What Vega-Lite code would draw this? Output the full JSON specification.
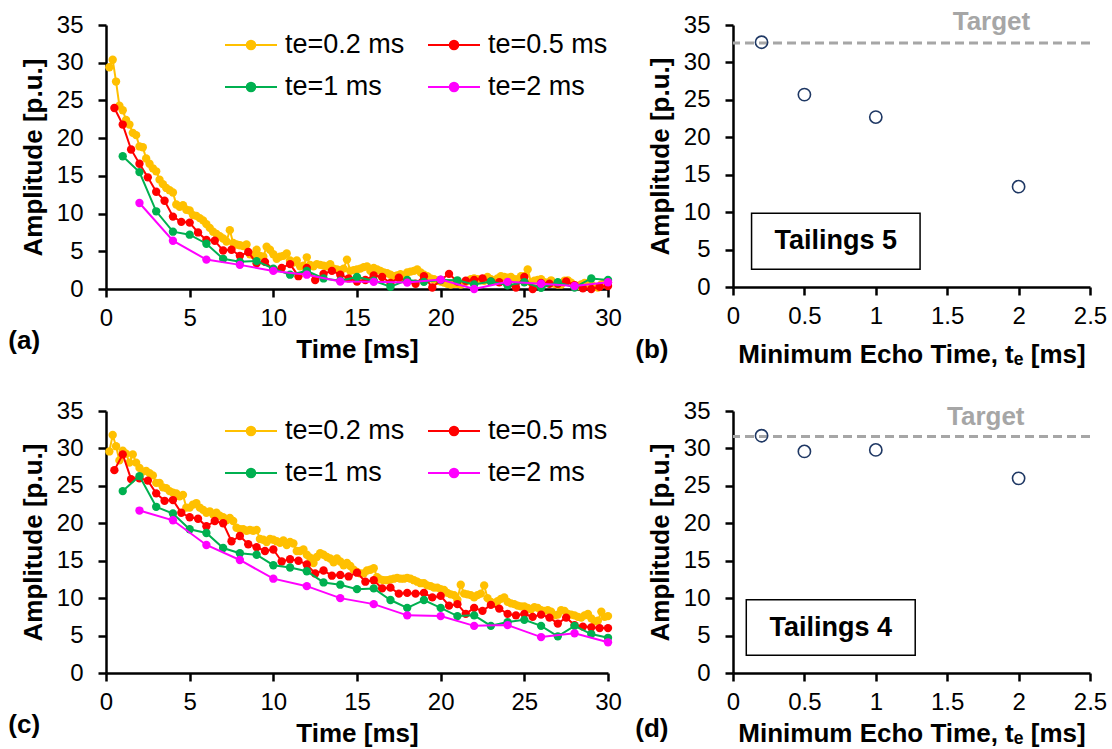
{
"$schema":"https://vega.github.io/schema/vega-lite/v6.json",
"background":"white",
"padding":{"left":8,"top":8,"right":6,"bottom":6},
"config":{
 "view":{"stroke":null},
 "font":"Liberation Sans",
 "axis":{"domainColor":"black","domainWidth":2.5,"tickColor":"black","tickWidth":2.5,"tickSize":8,"labelFontSize":24,"labelColor":"black","labelFont":"Liberation Sans","titleFontSize":26,"titleFont":"Liberation Sans","titleFontWeight":"bold","titleColor":"black","grid":false,"labelFlush":false,"labelOverlap":false},
 "axisY":{"labelPadding":15,"titlePadding":10},
 "axisX":{"labelPadding":9,"titlePadding":6},
 "title":{"font":"Liberation Sans","fontSize":26,"fontWeight":"bold","color":"black"},
 "legend":{"orient":"none","legendX":131,"legendY":6,"columns":2,"title":null,"symbolType":"M-2,0L2,0M0.08,0A0.08,0.08,0,1,1,-0.08,0A0.08,0.08,0,1,1,0.08,0M0.18,0A0.18,0.18,0,1,1,-0.18,0A0.18,0.18,0,1,1,0.18,0M0.28,0A0.28,0.28,0,1,1,-0.28,0A0.28,0.28,0,1,1,0.28,0M0.33,0A0.33,0.33,0,1,1,-0.33,0A0.33,0.33,0,1,1,0.33,0","symbolSize":676,"symbolStrokeWidth":2,"labelFontSize":27,"labelFont":"Liberation Sans","labelColor":"black","labelOffset":20,"columnPadding":19,"rowPadding":15,"labelLimit":300}
},
"datasets":{
 "A":[
{"t":0.2,"a":29.4,"s":"te=0.2 ms"},{"t":0.4,"a":30.4,"s":"te=0.2 ms"},{"t":0.6,"a":27.5,"s":"te=0.2 ms"},{"t":0.8,"a":24.3,"s":"te=0.2 ms"},{"t":1.0,"a":23.7,"s":"te=0.2 ms"},{"t":1.2,"a":22.4,"s":"te=0.2 ms"},{"t":1.4,"a":21.8,"s":"te=0.2 ms"},{"t":1.6,"a":20.7,"s":"te=0.2 ms"},{"t":1.8,"a":20.4,"s":"te=0.2 ms"},{"t":2.0,"a":18.9,"s":"te=0.2 ms"},
{"t":2.2,"a":18.8,"s":"te=0.2 ms"},{"t":2.4,"a":17.3,"s":"te=0.2 ms"},{"t":2.6,"a":16.6,"s":"te=0.2 ms"},{"t":2.8,"a":16.0,"s":"te=0.2 ms"},{"t":3.0,"a":15.6,"s":"te=0.2 ms"},{"t":3.2,"a":14.5,"s":"te=0.2 ms"},{"t":3.4,"a":13.9,"s":"te=0.2 ms"},{"t":3.6,"a":13.4,"s":"te=0.2 ms"},{"t":3.8,"a":13.1,"s":"te=0.2 ms"},{"t":4.0,"a":12.8,"s":"te=0.2 ms"},
{"t":4.2,"a":11.2,"s":"te=0.2 ms"},{"t":4.4,"a":10.9,"s":"te=0.2 ms"},{"t":4.6,"a":11.1,"s":"te=0.2 ms"},{"t":4.8,"a":10.5,"s":"te=0.2 ms"},{"t":5.0,"a":10.4,"s":"te=0.2 ms"},{"t":5.2,"a":9.8,"s":"te=0.2 ms"},{"t":5.4,"a":9.7,"s":"te=0.2 ms"},{"t":5.6,"a":9.4,"s":"te=0.2 ms"},{"t":5.8,"a":9.1,"s":"te=0.2 ms"},{"t":6.0,"a":8.6,"s":"te=0.2 ms"},
{"t":6.2,"a":8.1,"s":"te=0.2 ms"},{"t":6.4,"a":7.6,"s":"te=0.2 ms"},{"t":6.6,"a":7.3,"s":"te=0.2 ms"},{"t":6.8,"a":7.0,"s":"te=0.2 ms"},{"t":7.0,"a":6.7,"s":"te=0.2 ms"},{"t":7.2,"a":6.3,"s":"te=0.2 ms"},{"t":7.4,"a":7.8,"s":"te=0.2 ms"},{"t":7.6,"a":6.1,"s":"te=0.2 ms"},{"t":7.8,"a":5.9,"s":"te=0.2 ms"},{"t":8.0,"a":5.8,"s":"te=0.2 ms"},
{"t":8.2,"a":5.7,"s":"te=0.2 ms"},{"t":8.4,"a":5.9,"s":"te=0.2 ms"},{"t":8.6,"a":4.6,"s":"te=0.2 ms"},{"t":8.8,"a":4.5,"s":"te=0.2 ms"},{"t":9.0,"a":5.2,"s":"te=0.2 ms"},{"t":9.2,"a":4.4,"s":"te=0.2 ms"},{"t":9.4,"a":4.3,"s":"te=0.2 ms"},{"t":9.6,"a":5.6,"s":"te=0.2 ms"},{"t":9.8,"a":5.2,"s":"te=0.2 ms"},{"t":10.0,"a":4.6,"s":"te=0.2 ms"},
{"t":10.2,"a":4.0,"s":"te=0.2 ms"},{"t":10.4,"a":4.3,"s":"te=0.2 ms"},{"t":10.6,"a":4.4,"s":"te=0.2 ms"},{"t":10.8,"a":4.7,"s":"te=0.2 ms"},{"t":11.0,"a":3.8,"s":"te=0.2 ms"},{"t":11.2,"a":3.5,"s":"te=0.2 ms"},{"t":11.4,"a":3.8,"s":"te=0.2 ms"},{"t":11.6,"a":3.0,"s":"te=0.2 ms"},{"t":11.8,"a":3.1,"s":"te=0.2 ms"},{"t":12.0,"a":4.2,"s":"te=0.2 ms"},
{"t":12.2,"a":3.2,"s":"te=0.2 ms"},{"t":12.4,"a":3.0,"s":"te=0.2 ms"},{"t":12.6,"a":3.3,"s":"te=0.2 ms"},{"t":12.8,"a":3.2,"s":"te=0.2 ms"},{"t":13.0,"a":3.1,"s":"te=0.2 ms"},{"t":13.2,"a":3.0,"s":"te=0.2 ms"},{"t":13.4,"a":3.3,"s":"te=0.2 ms"},{"t":13.6,"a":2.7,"s":"te=0.2 ms"},{"t":13.8,"a":2.6,"s":"te=0.2 ms"},{"t":14.0,"a":2.5,"s":"te=0.2 ms"},
{"t":14.2,"a":2.7,"s":"te=0.2 ms"},{"t":14.4,"a":3.9,"s":"te=0.2 ms"},{"t":14.6,"a":2.4,"s":"te=0.2 ms"},{"t":14.8,"a":2.5,"s":"te=0.2 ms"},{"t":15.0,"a":2.6,"s":"te=0.2 ms"},{"t":15.2,"a":2.7,"s":"te=0.2 ms"},{"t":15.4,"a":2.9,"s":"te=0.2 ms"},{"t":15.6,"a":3.0,"s":"te=0.2 ms"},{"t":15.8,"a":2.4,"s":"te=0.2 ms"},{"t":16.0,"a":2.8,"s":"te=0.2 ms"},
{"t":16.2,"a":2.6,"s":"te=0.2 ms"},{"t":16.4,"a":2.4,"s":"te=0.2 ms"},{"t":16.6,"a":2.2,"s":"te=0.2 ms"},{"t":16.8,"a":2.1,"s":"te=0.2 ms"},{"t":17.0,"a":1.9,"s":"te=0.2 ms"},{"t":17.2,"a":1.7,"s":"te=0.2 ms"},{"t":17.4,"a":1.8,"s":"te=0.2 ms"},{"t":17.6,"a":1.95,"s":"te=0.2 ms"},{"t":17.8,"a":1.6,"s":"te=0.2 ms"},{"t":18.0,"a":2.2,"s":"te=0.2 ms"},
{"t":18.2,"a":2.3,"s":"te=0.2 ms"},{"t":18.4,"a":2.4,"s":"te=0.2 ms"},{"t":18.6,"a":2.6,"s":"te=0.2 ms"},{"t":18.8,"a":2.2,"s":"te=0.2 ms"},{"t":19.0,"a":1.9,"s":"te=0.2 ms"},{"t":19.2,"a":1.7,"s":"te=0.2 ms"},{"t":19.4,"a":1.4,"s":"te=0.2 ms"},{"t":19.6,"a":1.3,"s":"te=0.2 ms"},{"t":19.8,"a":1.1,"s":"te=0.2 ms"},{"t":20.0,"a":1.0,"s":"te=0.2 ms"},
{"t":20.2,"a":0.85,"s":"te=0.2 ms"},{"t":20.4,"a":0.7,"s":"te=0.2 ms"},{"t":20.6,"a":0.6,"s":"te=0.2 ms"},{"t":20.8,"a":0.7,"s":"te=0.2 ms"},{"t":21.0,"a":0.7,"s":"te=0.2 ms"},{"t":21.2,"a":0.6,"s":"te=0.2 ms"},{"t":21.4,"a":0.8,"s":"te=0.2 ms"},{"t":21.6,"a":1.05,"s":"te=0.2 ms"},{"t":21.8,"a":1.3,"s":"te=0.2 ms"},{"t":22.0,"a":1.4,"s":"te=0.2 ms"},
{"t":22.2,"a":1.3,"s":"te=0.2 ms"},{"t":22.4,"a":1.15,"s":"te=0.2 ms"},{"t":22.6,"a":1.1,"s":"te=0.2 ms"},{"t":22.8,"a":1.6,"s":"te=0.2 ms"},{"t":23.0,"a":1.3,"s":"te=0.2 ms"},{"t":23.2,"a":1.15,"s":"te=0.2 ms"},{"t":23.4,"a":1.4,"s":"te=0.2 ms"},{"t":23.6,"a":1.7,"s":"te=0.2 ms"},{"t":23.8,"a":1.6,"s":"te=0.2 ms"},{"t":24.0,"a":1.5,"s":"te=0.2 ms"},
{"t":24.2,"a":1.6,"s":"te=0.2 ms"},{"t":24.4,"a":1.3,"s":"te=0.2 ms"},{"t":24.6,"a":1.3,"s":"te=0.2 ms"},{"t":24.8,"a":1.7,"s":"te=0.2 ms"},{"t":25.0,"a":1.7,"s":"te=0.2 ms"},{"t":25.2,"a":2.6,"s":"te=0.2 ms"},{"t":25.4,"a":0.85,"s":"te=0.2 ms"},{"t":25.6,"a":1.1,"s":"te=0.2 ms"},{"t":25.8,"a":1.2,"s":"te=0.2 ms"},{"t":26.0,"a":1.3,"s":"te=0.2 ms"},
{"t":26.2,"a":0.9,"s":"te=0.2 ms"},{"t":26.4,"a":0.85,"s":"te=0.2 ms"},{"t":26.6,"a":1.15,"s":"te=0.2 ms"},{"t":26.8,"a":0.7,"s":"te=0.2 ms"},{"t":27.0,"a":0.6,"s":"te=0.2 ms"},{"t":27.2,"a":0.6,"s":"te=0.2 ms"},{"t":27.4,"a":1.1,"s":"te=0.2 ms"},{"t":27.6,"a":1.15,"s":"te=0.2 ms"},{"t":27.8,"a":0.85,"s":"te=0.2 ms"},{"t":28.0,"a":0.5,"s":"te=0.2 ms"},
{"t":28.2,"a":0.4,"s":"te=0.2 ms"},{"t":28.4,"a":0.6,"s":"te=0.2 ms"},{"t":28.6,"a":0.8,"s":"te=0.2 ms"},{"t":28.8,"a":0.8,"s":"te=0.2 ms"},{"t":29.0,"a":0.6,"s":"te=0.2 ms"},{"t":29.2,"a":0.3,"s":"te=0.2 ms"},{"t":29.4,"a":0.2,"s":"te=0.2 ms"},{"t":29.6,"a":0.6,"s":"te=0.2 ms"},{"t":29.8,"a":0.8,"s":"te=0.2 ms"},{"t":30.0,"a":0.85,"s":"te=0.2 ms"},
{"t":0.5,"a":24.0,"s":"te=0.5 ms"},{"t":1.0,"a":21.8,"s":"te=0.5 ms"},{"t":1.5,"a":18.5,"s":"te=0.5 ms"},{"t":2.0,"a":16.6,"s":"te=0.5 ms"},{"t":2.5,"a":14.8,"s":"te=0.5 ms"},{"t":3.0,"a":12.9,"s":"te=0.5 ms"},{"t":3.5,"a":11.7,"s":"te=0.5 ms"},{"t":4.0,"a":9.6,"s":"te=0.5 ms"},{"t":4.5,"a":8.9,"s":"te=0.5 ms"},{"t":5.0,"a":8.8,"s":"te=0.5 ms"},
{"t":5.5,"a":7.5,"s":"te=0.5 ms"},{"t":6.0,"a":6.5,"s":"te=0.5 ms"},{"t":6.5,"a":6.4,"s":"te=0.5 ms"},{"t":7.0,"a":5.1,"s":"te=0.5 ms"},{"t":7.5,"a":5.2,"s":"te=0.5 ms"},{"t":8.0,"a":4.4,"s":"te=0.5 ms"},{"t":8.5,"a":4.9,"s":"te=0.5 ms"},{"t":9.0,"a":3.4,"s":"te=0.5 ms"},{"t":9.5,"a":3.6,"s":"te=0.5 ms"},{"t":10.0,"a":2.6,"s":"te=0.5 ms"},
{"t":10.5,"a":2.8,"s":"te=0.5 ms"},{"t":11.0,"a":3.3,"s":"te=0.5 ms"},{"t":11.5,"a":1.7,"s":"te=0.5 ms"},{"t":12.0,"a":2.8,"s":"te=0.5 ms"},{"t":12.5,"a":1.2,"s":"te=0.5 ms"},{"t":13.0,"a":2.0,"s":"te=0.5 ms"},{"t":13.5,"a":2.4,"s":"te=0.5 ms"},{"t":14.0,"a":1.9,"s":"te=0.5 ms"},{"t":14.5,"a":1.4,"s":"te=0.5 ms"},{"t":15.0,"a":1.0,"s":"te=0.5 ms"},
{"t":15.5,"a":1.2,"s":"te=0.5 ms"},{"t":16.0,"a":1.8,"s":"te=0.5 ms"},{"t":16.5,"a":1.6,"s":"te=0.5 ms"},{"t":17.0,"a":0.8,"s":"te=0.5 ms"},{"t":17.5,"a":1.5,"s":"te=0.5 ms"},{"t":18.0,"a":1.0,"s":"te=0.5 ms"},{"t":18.5,"a":0.7,"s":"te=0.5 ms"},{"t":19.0,"a":1.7,"s":"te=0.5 ms"},{"t":19.5,"a":0.2,"s":"te=0.5 ms"},{"t":20.0,"a":1.2,"s":"te=0.5 ms"},
{"t":20.5,"a":2.0,"s":"te=0.5 ms"},{"t":21.0,"a":1.0,"s":"te=0.5 ms"},{"t":21.5,"a":1.1,"s":"te=0.5 ms"},{"t":22.0,"a":1.2,"s":"te=0.5 ms"},{"t":22.5,"a":1.4,"s":"te=0.5 ms"},{"t":23.0,"a":1.0,"s":"te=0.5 ms"},{"t":23.5,"a":0.9,"s":"te=0.5 ms"},{"t":24.0,"a":0.6,"s":"te=0.5 ms"},{"t":24.5,"a":0.2,"s":"te=0.5 ms"},{"t":25.0,"a":1.6,"s":"te=0.5 ms"},
{"t":25.5,"a":0.0,"s":"te=0.5 ms"},{"t":26.0,"a":0.8,"s":"te=0.5 ms"},{"t":26.5,"a":0.7,"s":"te=0.5 ms"},{"t":27.0,"a":0.7,"s":"te=0.5 ms"},{"t":27.5,"a":1.0,"s":"te=0.5 ms"},{"t":28.0,"a":0.5,"s":"te=0.5 ms"},{"t":28.5,"a":0.1,"s":"te=0.5 ms"},{"t":29.0,"a":0.0,"s":"te=0.5 ms"},{"t":29.5,"a":0.3,"s":"te=0.5 ms"},{"t":30.0,"a":0.4,"s":"te=0.5 ms"},
{"t":1,"a":17.6,"s":"te=1 ms"},{"t":2,"a":15.5,"s":"te=1 ms"},{"t":3,"a":10.3,"s":"te=1 ms"},{"t":4,"a":7.6,"s":"te=1 ms"},{"t":5,"a":7.2,"s":"te=1 ms"},{"t":6,"a":6.0,"s":"te=1 ms"},{"t":7,"a":4.0,"s":"te=1 ms"},{"t":8,"a":3.6,"s":"te=1 ms"},{"t":9,"a":3.7,"s":"te=1 ms"},{"t":10,"a":2.7,"s":"te=1 ms"},
{"t":11,"a":1.9,"s":"te=1 ms"},{"t":12,"a":2.4,"s":"te=1 ms"},{"t":13,"a":1.4,"s":"te=1 ms"},{"t":14,"a":1.1,"s":"te=1 ms"},{"t":15,"a":1.6,"s":"te=1 ms"},{"t":16,"a":1.1,"s":"te=1 ms"},{"t":17,"a":0.3,"s":"te=1 ms"},{"t":18,"a":1.2,"s":"te=1 ms"},{"t":19,"a":0.95,"s":"te=1 ms"},{"t":20,"a":1.2,"s":"te=1 ms"},
{"t":21,"a":1.15,"s":"te=1 ms"},{"t":22,"a":0.6,"s":"te=1 ms"},{"t":23,"a":1.0,"s":"te=1 ms"},{"t":24,"a":0.5,"s":"te=1 ms"},{"t":25,"a":0.9,"s":"te=1 ms"},{"t":26,"a":0.15,"s":"te=1 ms"},{"t":27,"a":0.9,"s":"te=1 ms"},{"t":28,"a":0.2,"s":"te=1 ms"},{"t":29,"a":1.4,"s":"te=1 ms"},{"t":30,"a":1.2,"s":"te=1 ms"},
{"t":2,"a":11.4,"s":"te=2 ms"},{"t":4,"a":6.4,"s":"te=2 ms"},{"t":6,"a":3.9,"s":"te=2 ms"},{"t":8,"a":3.2,"s":"te=2 ms"},{"t":10,"a":2.4,"s":"te=2 ms"},{"t":12,"a":1.9,"s":"te=2 ms"},{"t":14,"a":1.0,"s":"te=2 ms"},{"t":16,"a":0.95,"s":"te=2 ms"},{"t":18,"a":0.85,"s":"te=2 ms"},{"t":20,"a":1.25,"s":"te=2 ms"},
{"t":22,"a":0.0,"s":"te=2 ms"},{"t":24,"a":0.95,"s":"te=2 ms"},{"t":26,"a":0.7,"s":"te=2 ms"},{"t":28,"a":0.4,"s":"te=2 ms"},{"t":30,"a":0.9,"s":"te=2 ms"}
 ],
 "C":[
{"t":0.2,"a":29.6,"s":"te=0.2 ms"},{"t":0.4,"a":31.8,"s":"te=0.2 ms"},{"t":0.6,"a":30.3,"s":"te=0.2 ms"},{"t":0.8,"a":28.4,"s":"te=0.2 ms"},{"t":1.0,"a":29.7,"s":"te=0.2 ms"},{"t":1.2,"a":29.3,"s":"te=0.2 ms"},{"t":1.4,"a":28.1,"s":"te=0.2 ms"},{"t":1.6,"a":29.2,"s":"te=0.2 ms"},{"t":1.8,"a":28.1,"s":"te=0.2 ms"},{"t":2.0,"a":27.4,"s":"te=0.2 ms"},
{"t":2.2,"a":26.9,"s":"te=0.2 ms"},{"t":2.4,"a":27.0,"s":"te=0.2 ms"},{"t":2.6,"a":26.7,"s":"te=0.2 ms"},{"t":2.8,"a":26.4,"s":"te=0.2 ms"},{"t":3.0,"a":25.4,"s":"te=0.2 ms"},{"t":3.2,"a":25.4,"s":"te=0.2 ms"},{"t":3.4,"a":24.8,"s":"te=0.2 ms"},{"t":3.6,"a":24.7,"s":"te=0.2 ms"},{"t":3.8,"a":24.3,"s":"te=0.2 ms"},{"t":4.0,"a":24.1,"s":"te=0.2 ms"},
{"t":4.2,"a":24.0,"s":"te=0.2 ms"},{"t":4.4,"a":23.6,"s":"te=0.2 ms"},{"t":4.6,"a":23.8,"s":"te=0.2 ms"},{"t":4.8,"a":22.1,"s":"te=0.2 ms"},{"t":5.0,"a":22.1,"s":"te=0.2 ms"},{"t":5.2,"a":22.5,"s":"te=0.2 ms"},{"t":5.4,"a":22.7,"s":"te=0.2 ms"},{"t":5.6,"a":22.1,"s":"te=0.2 ms"},{"t":5.8,"a":21.8,"s":"te=0.2 ms"},{"t":6.0,"a":21.4,"s":"te=0.2 ms"},
{"t":6.2,"a":21.6,"s":"te=0.2 ms"},{"t":6.4,"a":21.2,"s":"te=0.2 ms"},{"t":6.6,"a":21.4,"s":"te=0.2 ms"},{"t":6.8,"a":21.0,"s":"te=0.2 ms"},{"t":7.0,"a":20.8,"s":"te=0.2 ms"},{"t":7.2,"a":20.4,"s":"te=0.2 ms"},{"t":7.4,"a":20.7,"s":"te=0.2 ms"},{"t":7.6,"a":20.3,"s":"te=0.2 ms"},{"t":7.8,"a":19.4,"s":"te=0.2 ms"},{"t":8.0,"a":19.2,"s":"te=0.2 ms"},
{"t":8.2,"a":19.2,"s":"te=0.2 ms"},{"t":8.4,"a":19.0,"s":"te=0.2 ms"},{"t":8.6,"a":19.1,"s":"te=0.2 ms"},{"t":8.8,"a":19.0,"s":"te=0.2 ms"},{"t":9.0,"a":19.1,"s":"te=0.2 ms"},{"t":9.2,"a":17.9,"s":"te=0.2 ms"},{"t":9.4,"a":17.8,"s":"te=0.2 ms"},{"t":9.6,"a":17.5,"s":"te=0.2 ms"},{"t":9.8,"a":17.9,"s":"te=0.2 ms"},{"t":10.0,"a":17.8,"s":"te=0.2 ms"},
{"t":10.2,"a":17.6,"s":"te=0.2 ms"},{"t":10.4,"a":17.4,"s":"te=0.2 ms"},{"t":10.6,"a":17.7,"s":"te=0.2 ms"},{"t":10.8,"a":17.1,"s":"te=0.2 ms"},{"t":11.0,"a":17.5,"s":"te=0.2 ms"},{"t":11.2,"a":17.3,"s":"te=0.2 ms"},{"t":11.4,"a":16.3,"s":"te=0.2 ms"},{"t":11.6,"a":16.3,"s":"te=0.2 ms"},{"t":11.8,"a":16.5,"s":"te=0.2 ms"},{"t":12.0,"a":15.8,"s":"te=0.2 ms"},
{"t":12.2,"a":15.4,"s":"te=0.2 ms"},{"t":12.4,"a":14.7,"s":"te=0.2 ms"},{"t":12.6,"a":15.5,"s":"te=0.2 ms"},{"t":12.8,"a":16.0,"s":"te=0.2 ms"},{"t":13.0,"a":15.8,"s":"te=0.2 ms"},{"t":13.2,"a":15.5,"s":"te=0.2 ms"},{"t":13.4,"a":15.3,"s":"te=0.2 ms"},{"t":13.6,"a":14.8,"s":"te=0.2 ms"},{"t":13.8,"a":15.3,"s":"te=0.2 ms"},{"t":14.0,"a":14.9,"s":"te=0.2 ms"},
{"t":14.2,"a":14.4,"s":"te=0.2 ms"},{"t":14.4,"a":14.7,"s":"te=0.2 ms"},{"t":14.6,"a":14.3,"s":"te=0.2 ms"},{"t":14.8,"a":13.8,"s":"te=0.2 ms"},{"t":15.0,"a":13.5,"s":"te=0.2 ms"},{"t":15.2,"a":13.3,"s":"te=0.2 ms"},{"t":15.4,"a":13.3,"s":"te=0.2 ms"},{"t":15.6,"a":13.7,"s":"te=0.2 ms"},{"t":15.8,"a":13.8,"s":"te=0.2 ms"},{"t":16.0,"a":14.0,"s":"te=0.2 ms"},
{"t":16.2,"a":12.8,"s":"te=0.2 ms"},{"t":16.4,"a":12.5,"s":"te=0.2 ms"},{"t":16.6,"a":12.4,"s":"te=0.2 ms"},{"t":16.8,"a":12.4,"s":"te=0.2 ms"},{"t":17.0,"a":12.5,"s":"te=0.2 ms"},{"t":17.2,"a":12.6,"s":"te=0.2 ms"},{"t":17.4,"a":12.7,"s":"te=0.2 ms"},{"t":17.6,"a":12.6,"s":"te=0.2 ms"},{"t":17.8,"a":12.6,"s":"te=0.2 ms"},{"t":18.0,"a":12.7,"s":"te=0.2 ms"},
{"t":18.2,"a":12.6,"s":"te=0.2 ms"},{"t":18.4,"a":12.4,"s":"te=0.2 ms"},{"t":18.6,"a":12.2,"s":"te=0.2 ms"},{"t":18.8,"a":12.0,"s":"te=0.2 ms"},{"t":19.0,"a":12.0,"s":"te=0.2 ms"},{"t":19.2,"a":11.7,"s":"te=0.2 ms"},{"t":19.4,"a":11.6,"s":"te=0.2 ms"},{"t":19.6,"a":11.4,"s":"te=0.2 ms"},{"t":19.8,"a":11.4,"s":"te=0.2 ms"},{"t":20.0,"a":11.2,"s":"te=0.2 ms"},
{"t":20.2,"a":11.1,"s":"te=0.2 ms"},{"t":20.4,"a":10.7,"s":"te=0.2 ms"},{"t":20.6,"a":10.5,"s":"te=0.2 ms"},{"t":20.8,"a":10.4,"s":"te=0.2 ms"},{"t":21.0,"a":9.8,"s":"te=0.2 ms"},{"t":21.2,"a":11.8,"s":"te=0.2 ms"},{"t":21.4,"a":10.6,"s":"te=0.2 ms"},{"t":21.6,"a":10.5,"s":"te=0.2 ms"},{"t":21.8,"a":10.4,"s":"te=0.2 ms"},{"t":22.0,"a":10.1,"s":"te=0.2 ms"},
{"t":22.2,"a":10.4,"s":"te=0.2 ms"},{"t":22.4,"a":10.6,"s":"te=0.2 ms"},{"t":22.6,"a":11.7,"s":"te=0.2 ms"},{"t":22.8,"a":10.0,"s":"te=0.2 ms"},{"t":23.0,"a":9.5,"s":"te=0.2 ms"},{"t":23.2,"a":9.3,"s":"te=0.2 ms"},{"t":23.4,"a":9.6,"s":"te=0.2 ms"},{"t":23.6,"a":9.9,"s":"te=0.2 ms"},{"t":23.8,"a":10.1,"s":"te=0.2 ms"},{"t":24.0,"a":9.5,"s":"te=0.2 ms"},
{"t":24.2,"a":9.3,"s":"te=0.2 ms"},{"t":24.4,"a":9.2,"s":"te=0.2 ms"},{"t":24.6,"a":9.0,"s":"te=0.2 ms"},{"t":24.8,"a":8.9,"s":"te=0.2 ms"},{"t":25.0,"a":8.9,"s":"te=0.2 ms"},{"t":25.2,"a":8.7,"s":"te=0.2 ms"},{"t":25.4,"a":8.5,"s":"te=0.2 ms"},{"t":25.6,"a":8.8,"s":"te=0.2 ms"},{"t":25.8,"a":8.7,"s":"te=0.2 ms"},{"t":26.0,"a":8.4,"s":"te=0.2 ms"},
{"t":26.2,"a":8.3,"s":"te=0.2 ms"},{"t":26.4,"a":8.4,"s":"te=0.2 ms"},{"t":26.6,"a":8.2,"s":"te=0.2 ms"},{"t":26.8,"a":7.7,"s":"te=0.2 ms"},{"t":27.0,"a":7.8,"s":"te=0.2 ms"},{"t":27.2,"a":8.4,"s":"te=0.2 ms"},{"t":27.4,"a":8.3,"s":"te=0.2 ms"},{"t":27.6,"a":7.9,"s":"te=0.2 ms"},{"t":27.8,"a":7.8,"s":"te=0.2 ms"},{"t":28.0,"a":7.7,"s":"te=0.2 ms"},
{"t":28.2,"a":7.5,"s":"te=0.2 ms"},{"t":28.4,"a":7.4,"s":"te=0.2 ms"},{"t":28.6,"a":7.7,"s":"te=0.2 ms"},{"t":28.8,"a":7.9,"s":"te=0.2 ms"},{"t":29.0,"a":7.3,"s":"te=0.2 ms"},{"t":29.2,"a":6.9,"s":"te=0.2 ms"},{"t":29.4,"a":7.0,"s":"te=0.2 ms"},{"t":29.6,"a":8.2,"s":"te=0.2 ms"},{"t":29.8,"a":7.5,"s":"te=0.2 ms"},{"t":30.0,"a":7.6,"s":"te=0.2 ms"},
{"t":0.5,"a":27.1,"s":"te=0.5 ms"},{"t":1.0,"a":29.2,"s":"te=0.5 ms"},{"t":1.5,"a":25.9,"s":"te=0.5 ms"},{"t":2.0,"a":26.0,"s":"te=0.5 ms"},{"t":2.5,"a":25.7,"s":"te=0.5 ms"},{"t":3.0,"a":24.0,"s":"te=0.5 ms"},{"t":3.5,"a":23.0,"s":"te=0.5 ms"},{"t":4.0,"a":23.1,"s":"te=0.5 ms"},{"t":4.5,"a":21.4,"s":"te=0.5 ms"},{"t":5.0,"a":20.8,"s":"te=0.5 ms"},
{"t":5.5,"a":20.6,"s":"te=0.5 ms"},{"t":6.0,"a":19.6,"s":"te=0.5 ms"},{"t":6.5,"a":20.3,"s":"te=0.5 ms"},{"t":7.0,"a":20.0,"s":"te=0.5 ms"},{"t":7.5,"a":17.6,"s":"te=0.5 ms"},{"t":8.0,"a":18.3,"s":"te=0.5 ms"},{"t":8.5,"a":17.2,"s":"te=0.5 ms"},{"t":9.0,"a":16.8,"s":"te=0.5 ms"},{"t":9.5,"a":16.3,"s":"te=0.5 ms"},{"t":10.0,"a":16.5,"s":"te=0.5 ms"},
{"t":10.5,"a":14.9,"s":"te=0.5 ms"},{"t":11.0,"a":15.2,"s":"te=0.5 ms"},{"t":11.5,"a":15.0,"s":"te=0.5 ms"},{"t":12.0,"a":14.5,"s":"te=0.5 ms"},{"t":12.5,"a":13.3,"s":"te=0.5 ms"},{"t":13.0,"a":13.7,"s":"te=0.5 ms"},{"t":13.5,"a":13.0,"s":"te=0.5 ms"},{"t":14.0,"a":13.1,"s":"te=0.5 ms"},{"t":14.5,"a":12.9,"s":"te=0.5 ms"},{"t":15.0,"a":13.4,"s":"te=0.5 ms"},
{"t":15.5,"a":12.2,"s":"te=0.5 ms"},{"t":16.0,"a":12.4,"s":"te=0.5 ms"},{"t":16.5,"a":11.3,"s":"te=0.5 ms"},{"t":17.0,"a":11.4,"s":"te=0.5 ms"},{"t":17.5,"a":10.6,"s":"te=0.5 ms"},{"t":18.0,"a":10.7,"s":"te=0.5 ms"},{"t":18.5,"a":10.6,"s":"te=0.5 ms"},{"t":19.0,"a":10.7,"s":"te=0.5 ms"},{"t":19.5,"a":10.1,"s":"te=0.5 ms"},{"t":20.0,"a":10.3,"s":"te=0.5 ms"},
{"t":20.5,"a":9.0,"s":"te=0.5 ms"},{"t":21.0,"a":9.2,"s":"te=0.5 ms"},{"t":21.5,"a":7.9,"s":"te=0.5 ms"},{"t":22.0,"a":8.7,"s":"te=0.5 ms"},{"t":22.5,"a":8.3,"s":"te=0.5 ms"},{"t":23.0,"a":9.1,"s":"te=0.5 ms"},{"t":23.5,"a":8.6,"s":"te=0.5 ms"},{"t":24.0,"a":7.9,"s":"te=0.5 ms"},{"t":24.5,"a":7.7,"s":"te=0.5 ms"},{"t":25.0,"a":7.9,"s":"te=0.5 ms"},
{"t":25.5,"a":7.5,"s":"te=0.5 ms"},{"t":26.0,"a":7.8,"s":"te=0.5 ms"},{"t":26.5,"a":7.4,"s":"te=0.5 ms"},{"t":27.0,"a":6.6,"s":"te=0.5 ms"},{"t":27.5,"a":7.4,"s":"te=0.5 ms"},{"t":28.0,"a":6.4,"s":"te=0.5 ms"},{"t":28.5,"a":6.2,"s":"te=0.5 ms"},{"t":29.0,"a":6.1,"s":"te=0.5 ms"},{"t":29.5,"a":6.0,"s":"te=0.5 ms"},{"t":30.0,"a":6.0,"s":"te=0.5 ms"},
{"t":1,"a":24.3,"s":"te=1 ms"},{"t":2,"a":26.3,"s":"te=1 ms"},{"t":3,"a":22.2,"s":"te=1 ms"},{"t":4,"a":21.3,"s":"te=1 ms"},{"t":5,"a":19.2,"s":"te=1 ms"},{"t":6,"a":18.7,"s":"te=1 ms"},{"t":7,"a":16.7,"s":"te=1 ms"},{"t":8,"a":16.0,"s":"te=1 ms"},{"t":9,"a":15.8,"s":"te=1 ms"},{"t":10,"a":14.4,"s":"te=1 ms"},
{"t":11,"a":14.1,"s":"te=1 ms"},{"t":12,"a":13.6,"s":"te=1 ms"},{"t":13,"a":12.1,"s":"te=1 ms"},{"t":14,"a":11.8,"s":"te=1 ms"},{"t":15,"a":11.2,"s":"te=1 ms"},{"t":16,"a":11.3,"s":"te=1 ms"},{"t":17,"a":9.75,"s":"te=1 ms"},{"t":18,"a":8.7,"s":"te=1 ms"},{"t":19,"a":9.75,"s":"te=1 ms"},{"t":20,"a":8.7,"s":"te=1 ms"},
{"t":21,"a":7.6,"s":"te=1 ms"},{"t":22,"a":7.7,"s":"te=1 ms"},{"t":23,"a":6.3,"s":"te=1 ms"},{"t":24,"a":6.8,"s":"te=1 ms"},{"t":25,"a":7.1,"s":"te=1 ms"},{"t":26,"a":6.3,"s":"te=1 ms"},{"t":27,"a":4.9,"s":"te=1 ms"},{"t":28,"a":6.3,"s":"te=1 ms"},{"t":29,"a":5.2,"s":"te=1 ms"},{"t":30,"a":4.7,"s":"te=1 ms"},
{"t":2,"a":21.7,"s":"te=2 ms"},{"t":4,"a":20.4,"s":"te=2 ms"},{"t":6,"a":17.1,"s":"te=2 ms"},{"t":8,"a":15.1,"s":"te=2 ms"},{"t":10,"a":12.6,"s":"te=2 ms"},{"t":12,"a":11.6,"s":"te=2 ms"},{"t":14,"a":10.0,"s":"te=2 ms"},{"t":16,"a":9.2,"s":"te=2 ms"},{"t":18,"a":7.7,"s":"te=2 ms"},{"t":20,"a":7.6,"s":"te=2 ms"},
{"t":22,"a":6.3,"s":"te=2 ms"},{"t":24,"a":6.4,"s":"te=2 ms"},{"t":26,"a":4.8,"s":"te=2 ms"},{"t":28,"a":5.3,"s":"te=2 ms"},{"t":30,"a":4.1,"s":"te=2 ms"}
 ],
 "B":[{"te":0.2,"a":32.7},{"te":0.5,"a":25.7},{"te":1,"a":22.7},{"te":2,"a":13.4}],
 "D":[{"te":0.2,"a":31.7},{"te":0.5,"a":29.6},{"te":1,"a":29.8},{"te":2,"a":26.0}],
 "Bt":[{"x":1.81,"y":32.6,"label":"Target"}],
 "Dt":[{"x":1.77,"y":31.6,"label":"Target"}],
 "Bbox":[{"x1":0.13,"x2":1.31,"y1":2.36,"y2":9.85,"xm":0.72,"ym":6.1,"label":"Tailings 5"}],
 "Dbox":[{"x1":0.093,"x2":1.276,"y1":2.36,"y2":9.78,"xm":0.685,"ym":6.07,"label":"Tailings 4"}]
},
"columns":2,
"bounds":"flush",
"align":"each",
"spacing":{"row":122,"column":125},
"resolve":{"scale":{"color":"independent"},"legend":{"color":"independent"}},
"concat":[
  {"width":502,"height":264,
   "title":{"text":"(a)","orient":"bottom","anchor":"start","frame":"bounds","offset":-34,"dx":-12},
   "data":{"name":"A"},
   "encoding":{
    "x":{"field":"t","type":"quantitative","scale":{"domain":[0,30],"nice":false,"zero":false},"axis":{"title":"Time [ms]","values":[0,5,10,15,20,25,30]}},
    "y":{"field":"a","type":"quantitative","scale":{"domain":[0,35],"nice":false},"axis":{"title":"Amplitude [p.u.]","values":[0,5,10,15,20,25,30,35]}},
    "color":{"field":"s","type":"nominal","scale":{"domain":["te=0.2 ms","te=1 ms","te=0.5 ms","te=2 ms"],"range":["#FFC000","#00B050","#FF0000","#FF00FF"]}}
   },
   "layer":[
    {"transform":[{"filter":{"field":"s","equal":"te=0.2 ms"}}],"mark":{"type":"line","strokeWidth":2,"point":{"filled":true,"size":70,"opacity":1}}},
    {"transform":[{"filter":{"field":"s","equal":"te=0.5 ms"}}],"mark":{"type":"line","strokeWidth":2,"point":{"filled":true,"size":70,"opacity":1}}},
    {"transform":[{"filter":{"field":"s","equal":"te=1 ms"}}],"mark":{"type":"line","strokeWidth":2,"point":{"filled":true,"size":70,"opacity":1}}},
    {"transform":[{"filter":{"field":"s","equal":"te=2 ms"}}],"mark":{"type":"line","strokeWidth":2,"point":{"filled":true,"size":70,"opacity":1}}}
   ]
  },
  {"width":357,"height":262,
   "title":{"text":"(b)","orient":"bottom","anchor":"start","frame":"bounds","offset":-30,"dx":-12},
   "encoding":{
    "x":{"type":"quantitative","scale":{"domain":[0,2.5],"nice":false,"zero":false},"axis":{"title":"Minimum Echo Time, tₑ [ms]","values":[0,0.5,1,1.5,2,2.5],"format":"~g","titlePadding":13}},
    "y":{"type":"quantitative","scale":{"domain":[0,35],"nice":false},"axis":{"title":"Amplitude [p.u.]","values":[0,5,10,15,20,25,30,35]}}
   },
   "layer":[
    {"data":{"name":"Bt"},"mark":{"type":"rule","strokeDash":[9,5],"strokeWidth":3,"color":"#A6A6A6"},"encoding":{"y":{"field":"y","type":"quantitative"}}},
    {"data":{"name":"Bt"},"mark":{"type":"text","fontSize":26,"fontWeight":"bold","color":"#A6A6A6","dy":-21,"align":"center","baseline":"middle"},"encoding":{"x":{"field":"x","type":"quantitative"},"y":{"field":"y","type":"quantitative"},"text":{"field":"label"}}},
    {"data":{"name":"Bbox"},"mark":{"type":"rect","fill":"white","stroke":"black","strokeWidth":1.5},"encoding":{"x":{"field":"x1","type":"quantitative"},"x2":{"field":"x2"},"y":{"field":"y1","type":"quantitative"},"y2":{"field":"y2"}}},
    {"data":{"name":"Bbox"},"mark":{"type":"text","fontSize":27,"fontWeight":"bold","color":"black","align":"center","baseline":"middle"},"encoding":{"x":{"field":"xm","type":"quantitative"},"y":{"field":"ym","type":"quantitative"},"text":{"field":"label"}}},
    {"data":{"name":"B"},"mark":{"type":"point","filled":false,"size":150,"strokeWidth":1.6,"color":"#1F3864","opacity":1},"encoding":{"x":{"field":"te","type":"quantitative"},"y":{"field":"a","type":"quantitative"}}}
   ]
  },
  {"width":502,"height":262,
   "title":{"text":"(c)","orient":"bottom","anchor":"start","frame":"bounds","offset":-34,"dx":-12},
   "data":{"name":"C"},
   "encoding":{
    "x":{"field":"t","type":"quantitative","scale":{"domain":[0,30],"nice":false,"zero":false},"axis":{"title":"Time [ms]","values":[0,5,10,15,20,25,30]}},
    "y":{"field":"a","type":"quantitative","scale":{"domain":[0,35],"nice":false},"axis":{"title":"Amplitude [p.u.]","values":[0,5,10,15,20,25,30,35]}},
    "color":{"field":"s","type":"nominal","scale":{"domain":["te=0.2 ms","te=1 ms","te=0.5 ms","te=2 ms"],"range":["#FFC000","#00B050","#FF0000","#FF00FF"]}}
   },
   "layer":[
    {"transform":[{"filter":{"field":"s","equal":"te=0.2 ms"}}],"mark":{"type":"line","strokeWidth":2,"point":{"filled":true,"size":70,"opacity":1}}},
    {"transform":[{"filter":{"field":"s","equal":"te=0.5 ms"}}],"mark":{"type":"line","strokeWidth":2,"point":{"filled":true,"size":70,"opacity":1}}},
    {"transform":[{"filter":{"field":"s","equal":"te=1 ms"}}],"mark":{"type":"line","strokeWidth":2,"point":{"filled":true,"size":70,"opacity":1}}},
    {"transform":[{"filter":{"field":"s","equal":"te=2 ms"}}],"mark":{"type":"line","strokeWidth":2,"point":{"filled":true,"size":70,"opacity":1}}}
   ]
  },
  {"width":357,"height":262,
   "title":{"text":"(d)","orient":"bottom","anchor":"start","frame":"bounds","offset":-30,"dx":-12},
   "encoding":{
    "x":{"type":"quantitative","scale":{"domain":[0,2.5],"nice":false,"zero":false},"axis":{"title":"Minimum Echo Time, tₑ [ms]","values":[0,0.5,1,1.5,2,2.5],"format":"~g"}},
    "y":{"type":"quantitative","scale":{"domain":[0,35],"nice":false},"axis":{"title":"Amplitude [p.u.]","values":[0,5,10,15,20,25,30,35]}}
   },
   "layer":[
    {"data":{"name":"Dt"},"mark":{"type":"rule","strokeDash":[9,5],"strokeWidth":3,"color":"#A6A6A6"},"encoding":{"y":{"field":"y","type":"quantitative"}}},
    {"data":{"name":"Dt"},"mark":{"type":"text","fontSize":26,"fontWeight":"bold","color":"#A6A6A6","dy":-19,"align":"center","baseline":"middle"},"encoding":{"x":{"field":"x","type":"quantitative"},"y":{"field":"y","type":"quantitative"},"text":{"field":"label"}}},
    {"data":{"name":"Dbox"},"mark":{"type":"rect","fill":"white","stroke":"black","strokeWidth":1.5},"encoding":{"x":{"field":"x1","type":"quantitative"},"x2":{"field":"x2"},"y":{"field":"y1","type":"quantitative"},"y2":{"field":"y2"}}},
    {"data":{"name":"Dbox"},"mark":{"type":"text","fontSize":27,"fontWeight":"bold","color":"black","align":"center","baseline":"middle"},"encoding":{"x":{"field":"xm","type":"quantitative"},"y":{"field":"ym","type":"quantitative"},"text":{"field":"label"}}},
    {"data":{"name":"D"},"mark":{"type":"point","filled":false,"size":150,"strokeWidth":1.6,"color":"#1F3864","opacity":1},"encoding":{"x":{"field":"te","type":"quantitative"},"y":{"field":"a","type":"quantitative"}}}
   ]
  }
]
}
